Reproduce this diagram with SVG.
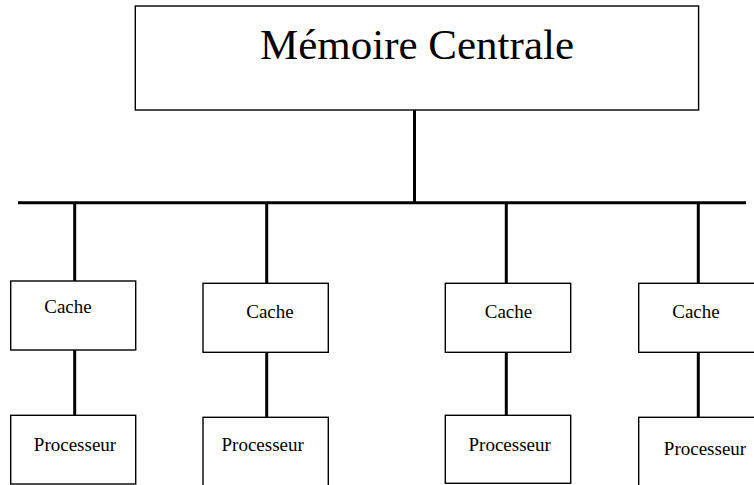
<svg xmlns="http://www.w3.org/2000/svg" width="754" height="485" viewBox="0 0 754 485">
<style>
.box{fill:#fff;stroke:#000;stroke-width:1.4}
.wire{stroke:#000;stroke-width:3;fill:none}
text{font-family:"Liberation Serif","Times New Roman",serif;fill:#000}
.lbl{font-size:19px}
.big{font-size:43px}
</style>
<rect width="754" height="485" fill="#fff"/>
<g id="connectors">
<line class="wire" x1="18" y1="202.7" x2="746" y2="202.7"/>
<line class="wire" x1="414.5" y1="110" x2="414.5" y2="204"/>
<line class="wire" x1="74.7" y1="202" x2="74.7" y2="281"/>
<line class="wire" x1="74.7" y1="350" x2="74.7" y2="415.3"/>
<line class="wire" x1="266.7" y1="202" x2="266.7" y2="283.3"/>
<line class="wire" x1="266.7" y1="352.3" x2="266.7" y2="417.3"/>
<line class="wire" x1="506.3" y1="202" x2="506.3" y2="283.3"/>
<line class="wire" x1="506.3" y1="352.3" x2="506.3" y2="415.3"/>
<line class="wire" x1="698.3" y1="202" x2="698.3" y2="283.3"/>
<line class="wire" x1="698.3" y1="352.3" x2="698.3" y2="417.3"/>
</g>
<g id="memoire">
<rect class="box" x="135.3" y="6" width="563.3" height="104"/>
<text class="big" x="417" y="59" text-anchor="middle">Mémoire Centrale</text>
</g>
<g id="cache1">
<rect class="box" x="10.7" y="281" width="125" height="69"/>
<text class="lbl" x="68" y="312.7" text-anchor="middle">Cache</text>
</g>
<g id="proc1">
<rect class="box" x="10.7" y="415.3" width="125" height="68.7"/>
<text class="lbl" x="75" y="450.7" text-anchor="middle">Processeur</text>
</g>
<g id="cache2">
<rect class="box" x="203" y="283.3" width="125.3" height="69"/>
<text class="lbl" x="270" y="317.7" text-anchor="middle">Cache</text>
</g>
<g id="proc2">
<rect class="box" x="203" y="417.3" width="125.3" height="72"/>
<text class="lbl" x="262.7" y="450.7" text-anchor="middle">Processeur</text>
</g>
<g id="cache3">
<rect class="box" x="445.3" y="283.3" width="125.4" height="69"/>
<text class="lbl" x="508.5" y="317.7" text-anchor="middle">Cache</text>
</g>
<g id="proc3">
<rect class="box" x="445.3" y="415.3" width="125.4" height="68"/>
<text class="lbl" x="509.7" y="450.7" text-anchor="middle">Processeur</text>
</g>
<g id="cache4">
<rect class="box" x="638.7" y="283.3" width="125" height="69"/>
<text class="lbl" x="696" y="317.7" text-anchor="middle">Cache</text>
</g>
<g id="proc4">
<rect class="box" x="638.7" y="417.3" width="125" height="72"/>
<text class="lbl" x="705" y="455" text-anchor="middle">Processeur</text>
</g>
</svg>
